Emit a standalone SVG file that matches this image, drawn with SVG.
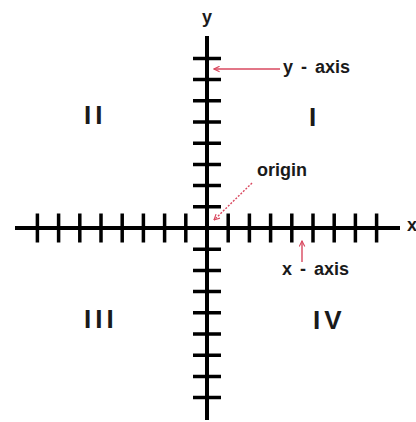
<svg xmlns="http://www.w3.org/2000/svg" width="416" height="422" viewBox="0 0 416 422">
<defs>
<marker id="ah" viewBox="0 0 10 10" refX="9" refY="5" markerWidth="7" markerHeight="7" orient="auto" markerUnits="userSpaceOnUse">
<path d="M1,1 L9,5 L1,9" fill="none" stroke="#d9485f" stroke-width="1.6"/>
</marker>
</defs>
<style>
.axis{stroke:#000;stroke-width:4;fill:none}
.tick{stroke:#000;stroke-width:3.5;fill:none}
.lbl{font-family:"Liberation Sans",Arial,sans-serif;font-weight:bold;font-size:18px;fill:#1a1a1a}
.quad{font-family:"Liberation Sans",Arial,sans-serif;font-weight:bold;font-size:26px;fill:#1a1a1a;letter-spacing:4px}
.ptr{stroke:#d9485f;stroke-width:1.4;fill:none;marker-end:url(#ah)}
</style>
<rect width="416" height="422" fill="#fff"/>
<g id="connectors">
<path class="ptr" d="M280,69 L214,69"/>
<path class="ptr" d="M302,262 L302,241"/>
<path class="ptr" d="M252,183 L214,220" stroke-dasharray="2,1.5"/>
</g>
<g id="x-axis">
<line class="axis" x1="15" y1="228" x2="400" y2="228"/>
<path class="tick" d="M37.4,213.5v29 M58.6,213.5v29 M79.8,213.5v29 M101,213.5v29 M122.2,213.5v29 M143.4,213.5v29 M164.6,213.5v29 M185.8,213.5v29 M228.2,213.5v29 M249.4,213.5v29 M270.6,213.5v29 M291.8,213.5v29 M313,213.5v29 M334.2,213.5v29 M355.4,213.5v29 M376.6,213.5v29"/>
<text class="lbl" x="407" y="231">x</text>
</g>
<g id="y-axis">
<line class="axis" x1="207" y1="36" x2="207" y2="420"/>
<path class="tick" d="M193,206.8h28 M193,185.6h28 M193,164.4h28 M193,143.2h28 M193,122h28 M193,100.8h28 M193,79.6h28 M193,58.4h28 M193,249.2h28 M193,270.4h28 M193,291.6h28 M193,312.8h28 M193,334h28 M193,355.2h28 M193,376.4h28 M193,397.6h28"/>
<text class="lbl" x="207" y="23" text-anchor="middle">y</text>
</g>
<g id="label-y-axis"><text class="lbl" x="283" y="73" word-spacing="3">y - axis</text></g>
<g id="label-x-axis"><text class="lbl" x="282" y="275" word-spacing="3">x - axis</text></g>
<g id="label-origin"><text class="lbl" x="257" y="176">origin</text></g>
<g id="quadrant-I"><text class="quad" x="309" y="126">I</text></g>
<g id="quadrant-II"><text class="quad" x="84" y="124">II</text></g>
<g id="quadrant-III"><text class="quad" x="84" y="328">III</text></g>
<g id="quadrant-IV"><text class="quad" x="313" y="329">IV</text></g>
</svg>
